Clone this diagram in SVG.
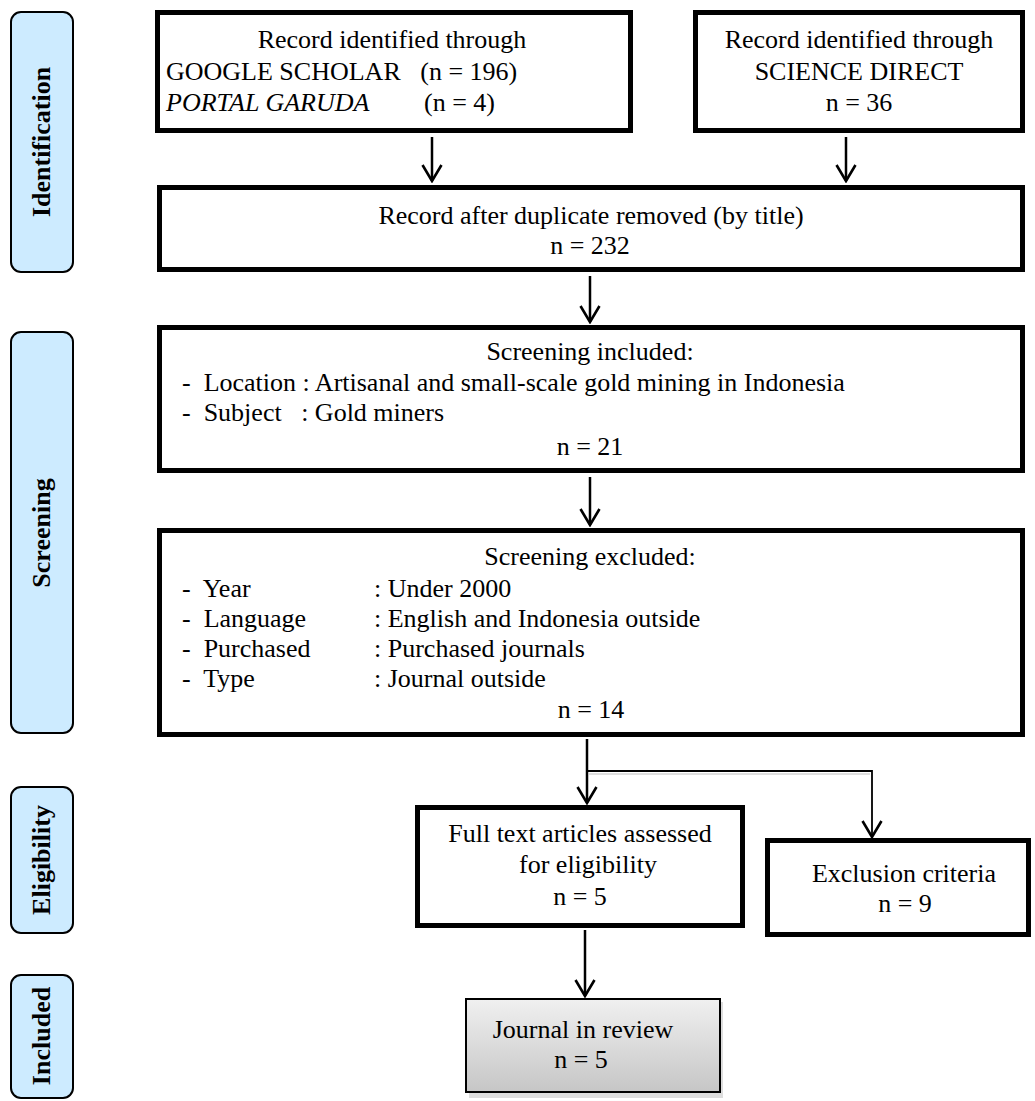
<svg xmlns="http://www.w3.org/2000/svg" width="1035" height="1101" viewBox="0 0 1035 1101">
<style>
text{font-family:"Liberation Serif","Times New Roman",serif;font-size:26px;fill:#000;white-space:pre}
.c{text-anchor:middle}
.side{fill:#cdebff;stroke:#000;stroke-width:2}
.sl{font-weight:bold;text-anchor:middle;font-size:26px}
.box{fill:#fff;stroke:#000;stroke-width:5}
.ln{fill:none;stroke:#000;stroke-width:2.5}
</style>
<defs>
<marker id="ar" viewBox="0 0 19 22" refX="17" refY="11" markerWidth="19" markerHeight="22" markerUnits="userSpaceOnUse" orient="auto">
<path d="M1,1.5 L17,11 L1,20.5" fill="none" stroke="#000" stroke-width="2.6"/>
</marker>
<linearGradient id="g" x1="0" y1="0" x2="0" y2="1">
<stop offset="0" stop-color="#f0f0f0"/>
<stop offset="1" stop-color="#c6c6c6"/>
</linearGradient>
</defs>
<g id="side-identification"><rect class="side" x="11" y="12" width="62" height="260" rx="10"/><text class="sl" transform="translate(50,142) rotate(-90)">Identification</text></g>
<g id="side-screening"><rect class="side" x="11" y="332" width="62" height="401" rx="10"/><text class="sl" transform="translate(50,533) rotate(-90)">Screening</text></g>
<g id="side-eligibility"><rect class="side" x="11" y="787" width="62" height="146" rx="10"/><text class="sl" transform="translate(50,860) rotate(-90)">Eligibility</text></g>
<g id="side-included"><rect class="side" x="11" y="975" width="62" height="123" rx="10"/><text class="sl" transform="translate(50,1036) rotate(-90)">Included</text></g>

<g id="connectors">
<line class="ln" x1="432" y1="137" x2="432" y2="181" marker-end="url(#ar)"/>
<line class="ln" x1="846" y1="137" x2="846" y2="181" marker-end="url(#ar)"/>
<line class="ln" x1="590" y1="276" x2="590" y2="322" marker-end="url(#ar)"/>
<line class="ln" x1="590" y1="477" x2="590" y2="525" marker-end="url(#ar)"/>
<line class="ln" x1="587" y1="739" x2="587" y2="803" marker-end="url(#ar)"/>
<polyline points="587,771 872,771 872,837" fill="none" stroke="#000" stroke-width="1.8" marker-end="url(#ar)"/>
<line x1="589" y1="774" x2="870" y2="774" stroke="#bdbdbd" stroke-width="1.2"/>
<line class="ln" x1="585" y1="930" x2="585" y2="996" marker-end="url(#ar)"/>
</g>

<g id="node-google"><rect class="box" x="157.5" y="12.5" width="473" height="118"/>
<text class="c" x="392" y="48">Record identified through</text>
<text x="166" y="80">GOOGLE SCHOLAR   (n = 196)</text>
<text x="166" y="111" font-style="italic">PORTAL GARUDA</text>
<text x="424" y="111">(n = 4)</text></g>

<g id="node-science"><rect class="box" x="695.5" y="12.5" width="327" height="118"/>
<text class="c" x="859" y="48">Record identified through</text>
<text class="c" x="859" y="80">SCIENCE DIRECT</text>
<text class="c" x="859" y="111">n = 36</text></g>

<g id="node-dup"><rect class="box" x="159.5" y="187.5" width="863" height="82"/>
<text class="c" x="591" y="224">Record after duplicate removed (by title)</text>
<text class="c" x="590" y="254">n = 232</text></g>

<g id="node-incl"><rect class="box" x="159.5" y="327.5" width="863" height="143"/>
<text class="c" x="590" y="360">Screening included:</text>
<text x="182" y="391">-  Location : Artisanal and small-scale gold mining in Indonesia</text>
<text x="182" y="421">-  Subject   : Gold miners</text>
<text class="c" x="590" y="455">n = 21</text></g>

<g id="node-excl"><rect class="box" x="159.5" y="530.5" width="863" height="204"/>
<text class="c" x="590" y="565">Screening excluded:</text>
<text x="182" y="597">-  Year</text><text x="374" y="597">: Under 2000</text>
<text x="182" y="627">-  Language</text><text x="374" y="627">: English and Indonesia outside</text>
<text x="182" y="657">-  Purchased</text><text x="374" y="657">: Purchased journals</text>
<text x="182" y="687">-  Type</text><text x="374" y="687">: Journal outside</text>
<text class="c" x="591" y="718">n = 14</text></g>

<g id="node-full"><rect class="box" x="417.5" y="807.5" width="325" height="118"/>
<text class="c" x="580" y="842">Full text articles assessed</text>
<text class="c" x="588" y="873">for eligibility</text>
<text class="c" x="580" y="905">n = 5</text></g>

<g id="node-exclusion"><rect class="box" x="767.5" y="840.5" width="261" height="94"/>
<text class="c" x="904" y="882">Exclusion criteria</text>
<text class="c" x="905" y="912">n = 9</text></g>

<g id="node-review">
<rect x="469" y="1002" width="254" height="96" fill="#cfcfcf" opacity="0.7"/>
<rect x="466" y="999" width="254" height="93" fill="url(#g)" stroke="#000" stroke-width="2"/>
<text class="c" x="583" y="1038">Journal in review</text>
<text class="c" x="581" y="1068">n = 5</text></g>
</svg>
